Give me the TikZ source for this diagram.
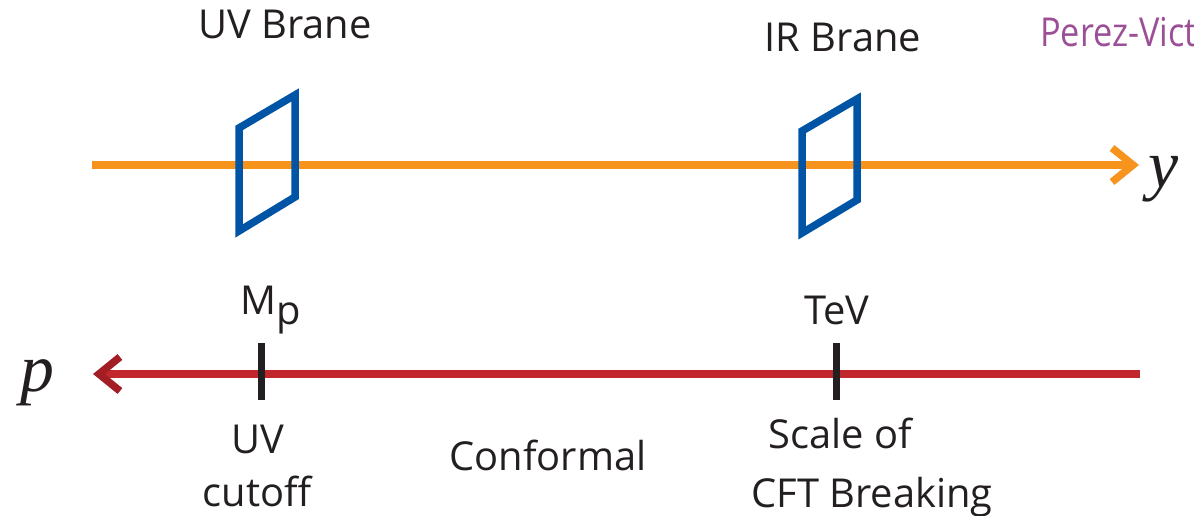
\documentclass[tikz,border=0pt]{standalone}
\usepackage{fontspec}
\setmainfont{Open Sans}
\newfontfamily\mathserif{Liberation Serif}
\usetikzlibrary{arrows.meta}
\definecolor{axorange}{HTML}{F7941D}
\definecolor{axred}{HTML}{C1272D}
\definecolor{axredtip}{HTML}{A31D24}
\definecolor{braneblue}{HTML}{0054A6}
\definecolor{txtblack}{HTML}{231F20}
\definecolor{citepurple}{HTML}{9B4F96}
\tikzset{
  lbl/.style={font=\fontsize{40}{48}\selectfont, text=txtblack, inner sep=0pt, anchor=base},
  varlbl/.style={font=\fontsize{68}{74}\selectfont\mathserif\itshape, text=txtblack, inner sep=0pt, anchor=base},
  axis/.style={line width=7.5bp},
  brane/.style={draw=braneblue, line width=7.5bp, line join=miter},
  tick/.style={draw=txtblack, line width=7bp},
}
\begin{document}
\begin{tikzpicture}[x=1bp,y=-1bp]
\useasboundingbox (0,0) rectangle (1194,516);
\clip (0,0) rectangle (1194,516);
% extra-dimension axis
\coordinate (ystart) at (92,165);
\coordinate (yend) at (1139,165);
\draw[axis, draw=axorange, -{Straight Barb[length=21bp, width=34bp, line width=7.5bp]}] (ystart) -- (yend);
\node[varlbl] (ylab) at (1164,188) {y};
% branes
\draw[brane] (239,128) -- (295,95) -- (295,197) -- (239,231) -- cycle;
\draw[brane] (802,131) -- (857,99) -- (857,200) -- (802,233) -- cycle;
\node[lbl] (uvb) at (285,39) {UV Brane};
\node[lbl] (irb) at (843,52) {IR Brane};
\node[lbl, text=citepurple, anchor=base west] (cite) at (1040,47) {\scalebox{0.86}[1]{Perez-Vict}};
% momentum axis
\coordinate (pstart) at (1140,374);
\coordinate (pend) at (93,374);
\draw[axis, draw=axred, -{Straight Barb[length=21bp, width=34bp, line width=7.5bp, color=axredtip]}] (pstart) -- (pend);
\node[varlbl] (plab) at (37,391) {p};
% ticks
\coordinate (t1a) at (261.5,343);
\coordinate (t1b) at (261.5,400);
\coordinate (t2a) at (836,343);
\coordinate (t2b) at (836,400);
\draw[tick] (t1a) -- (t1b);
\draw[tick] (t2a) -- (t2b);
\node[lbl] (mp) at (271,315) {M\raisebox{-10bp}{p}};
\node[lbl] (tev) at (837,325) {TeV};
\node[lbl] (uv1) at (258,453) {UV};
\node[lbl] (uv2) at (257,506) {cutoff};
\node[lbl] (conf) at (548,470) {Conformal};
\node[lbl] (sc1) at (840,448) {Scale of};
\node[lbl] (sc2) at (872,507) {CFT Breaking};
\end{tikzpicture}
\end{document}
